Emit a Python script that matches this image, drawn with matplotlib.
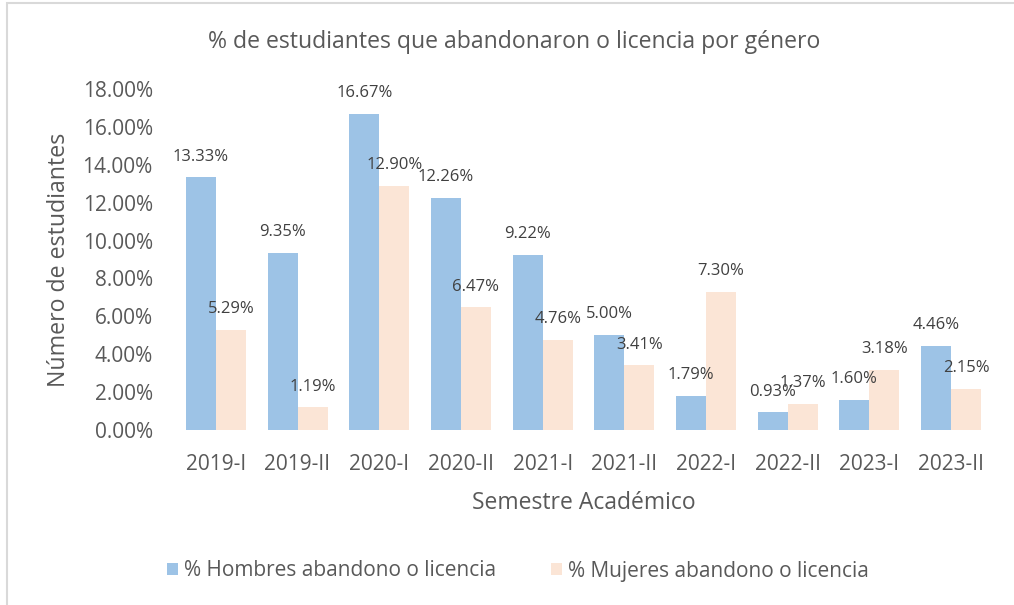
import matplotlib
matplotlib.use("Agg")
import matplotlib.pyplot as plt
import matplotlib.patches as mpatches
import numpy as np

semestres = ["2019-I", "2019-II", "2020-I", "2020-II", "2021-I", "2021-II",
             "2022-I", "2022-II", "2023-I", "2023-II"]
hombres = [13.33, 9.35, 16.67, 12.26, 9.22, 5.00, 1.79, 0.93, 1.60, 4.46]
mujeres = [5.29, 1.19, 12.90, 6.47, 4.76, 3.41, 7.30, 1.37, 3.18, 2.15]
yticks = [0, 2, 4, 6, 8, 10, 12, 14, 16, 18]

titulo = "% de estudiantes que abandonaron o licencia por género"
xlabel = "Semestre Académico"
ylabel = "Número de estudiantes"
serie_h = "% Hombres abandono o licencia"
serie_m = "% Mujeres abandono o licencia"

plt.rcParams['font.family'] = ['Open Sans', 'DejaVu Sans']

W, H = 1014, 605
fig = plt.figure(figsize=(W / 100, H / 100), dpi=100)
fig.patch.set_facecolor("white")

ax = fig.add_axes([175 / W, (H - 430) / H, (992 - 175) / W, (430 - 89) / H])

blue = "#9DC3E6"
peach = "#FBE5D6"
gray = "#595959"
lbl = "#404040"

x = np.arange(len(semestres))
bw = 0.367
bh = ax.bar(x - bw / 2, hombres, width=bw, color=blue, label=serie_h)
bm = ax.bar(x + bw / 2, mujeres, width=bw, color=peach, label=serie_m)

for bars, vals in ((bh, hombres), (bm, mujeres)):
    for b, v in zip(bars, vals):
        ax.annotate(f"{v:.2f}%", (b.get_x() + b.get_width() / 2, v),
                    xytext=(0, 15), textcoords="offset points",
                    ha="center", va="center", fontsize=12, color=lbl)

ax.set_xlim(-0.5, len(semestres) - 0.5)
ax.set_ylim(0, 18)
ax.set_yticks(yticks)
ax.set_yticklabels([f"{t:.2f}%" for t in yticks])
ax.set_xticks(x)
ax.set_xticklabels(semestres)
ax.tick_params(axis="both", length=0, labelsize=15, colors=gray)
ax.tick_params(axis="x", pad=17)
ax.tick_params(axis="y", pad=16)
for s in ax.spines.values():
    s.set_visible(False)

ax.set_xlabel(xlabel, fontsize=16.5, color=gray, labelpad=12)
ax.set_ylabel(ylabel, fontsize=16.7, color=gray, labelpad=8)

fig.text(0.507, 1 - 42 / H, titulo, ha="center", va="center", fontsize=16.6, color=gray)

fig.legend(handles=[bh, bm], labels=[serie_h, serie_m], loc="center",
           bbox_to_anchor=(518 / W, 1 - 571 / H), ncol=2, frameon=False,
           fontsize=15, labelcolor=gray, handlelength=0.55, handleheight=0.55,
           handletextpad=0.3, columnspacing=2.6)

border = mpatches.Rectangle((7 / W, -0.1), 1.0, (H - 3) / H + 0.1,
                            transform=fig.transFigure, fill=False,
                            edgecolor="#D9D9D9", lw=1.5)
fig.patches.append(border)

fig.savefig("out.png", dpi=100, facecolor="white")
